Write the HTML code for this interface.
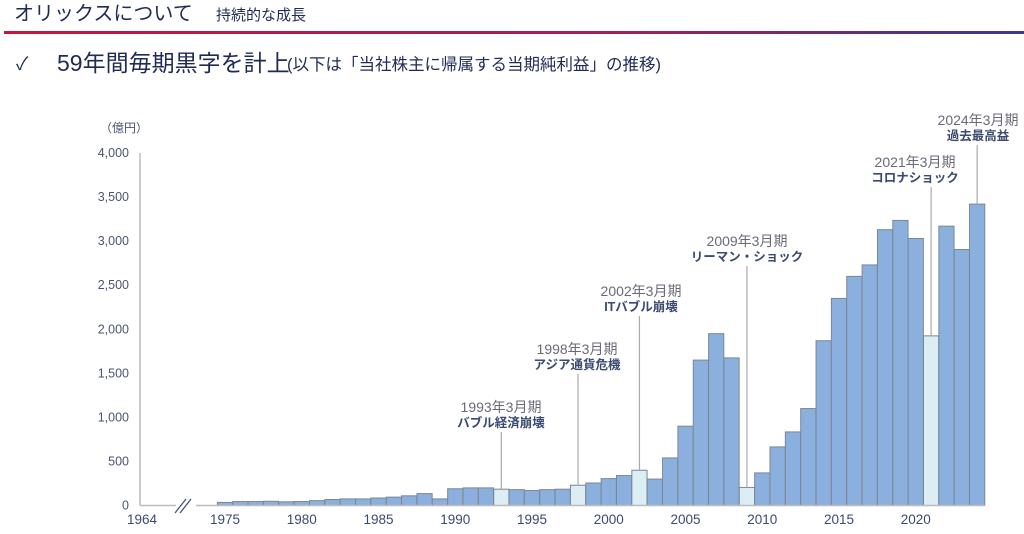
<!DOCTYPE html>
<html><head><meta charset="utf-8"><style>
body{margin:0;background:#fff;width:1024px;height:529px;overflow:hidden;font-family:"Liberation Sans","Noto Sans CJK JP",sans-serif}
</style></head><body>
<svg width="1024" height="529" xmlns="http://www.w3.org/2000/svg" font-family="Liberation Sans, Noto Sans CJK JP, sans-serif">
<defs><linearGradient id="g" x1="0" x2="1"><stop offset="0" stop-color="#c8163a"/><stop offset="0.6" stop-color="#a0205a"/><stop offset="1" stop-color="#3a3a8a"/></linearGradient></defs>
<text x="14" y="20" font-size="20" fill="#1f2a55">オリックスについて</text>
<text x="216" y="20" font-size="15" fill="#1f2a55">持続的な成長</text>
<rect x="4" y="31" width="1020" height="3" fill="url(#g)"/>
<text x="16" y="70" font-size="18" fill="#1f2a55">✓</text>
<text x="57" y="71" font-size="23" fill="#1f2a55">59年間毎期黒字を計上</text>
<text x="287" y="70" font-size="16.5" fill="#1f2a55">(以下は「当社株主に帰属する当期純利益」の推移)</text>
<text x="100" y="132" font-size="12" fill="#4a5670">（億円）</text>
<g font-size="12.5" fill="#4a5670" text-anchor="end" id="yl"></g>
<g id="chart"></g>
</svg>
<script>
const NS="http://www.w3.org/2000/svg";
const svg=document.querySelector('svg'),ch=document.getElementById('chart'),yl=document.getElementById('yl');
function el(t,a,p,txt){const e=document.createElementNS(NS,t);for(const k in a)e.setAttribute(k,a[k]);if(txt)e.textContent=txt;(p||ch).appendChild(e);return e;}
const base=505.5,sc=352.5/4000;
["0","500","1,000","1,500","2,000","2,500","3,000","3,500","4,000"].forEach((l,i)=>el('text',{x:129,y:base-i*500*sc+4},yl,l));
const v=[35,45,45,48,42,45,55,68,75,75,85,95,110,135,75,190,200,200,185,180,170,180,185,230,255,305,340,400,300,540,900,1650,1950,1675,205,370,665,835,1100,1870,2350,2600,2730,3130,3235,3030,1925,3170,2905,3420];
const light=[1993,1998,2002,2009,2021];
const cx=y=>225+(y-1975)*15.35;
v.forEach((d,i)=>{const y=1975+i,h=d*sc;el('rect',{x:cx(y)-7.6,y:base-h,width:15.2,height:h,fill:light.includes(y)?'#dcedf4':'#8cb0de',stroke:'#7a8796','stroke-width':1});});
el('line',{x1:140,y1:153,x2:140,y2:base,stroke:'#bbb','stroke-width':1.5});
el('line',{x1:140,y1:base,x2:985,y2:base,stroke:'#bbb','stroke-width':1.5});
el('rect',{x:176,y:496,width:20,height:18,fill:'#fff'});
el('line',{x1:175,y1:513,x2:186,y2:499,stroke:'#3a4a7a','stroke-width':1.2});
el('line',{x1:180,y1:513,x2:191,y2:499,stroke:'#3a4a7a','stroke-width':1.2});
el('text',{x:142,y:524,'font-size':13.5,fill:'#3a4a70','text-anchor':'middle'},ch,'1964');
for(let y=1975;y<=2020;y+=5)el('text',{x:cx(y),y:524,'font-size':13.5,fill:'#3a4a70','text-anchor':'middle'},ch,String(y));
const ann=[[1993,501,412,'1993年3月期','バブル経済崩壊'],[1998,577,354,'1998年3月期','アジア通貨危機'],[2002,641,296,'2002年3月期','ITバブル崩壊'],[2009,747,246,'2009年3月期','リーマン・ショック'],[2021,915,167,'2021年3月期','コロナショック'],[2024,978,125,'2024年3月期','過去最高益']];
ann.forEach(([y,x,b,a,t])=>{const i=y-1975;el('line',{x1:cx(y),y1:b+20,x2:cx(y),y2:base-v[i]*sc,stroke:'#aaa','stroke-width':1.2});
el('text',{x:x,y:b,'font-size':14,fill:'#6a6a78','text-anchor':'middle'},ch,a);
el('text',{x:x,y:b+15,'font-size':12.5,'font-weight':'bold',fill:'#3a4a70','text-anchor':'middle'},ch,t);});
</script>
</body></html>
